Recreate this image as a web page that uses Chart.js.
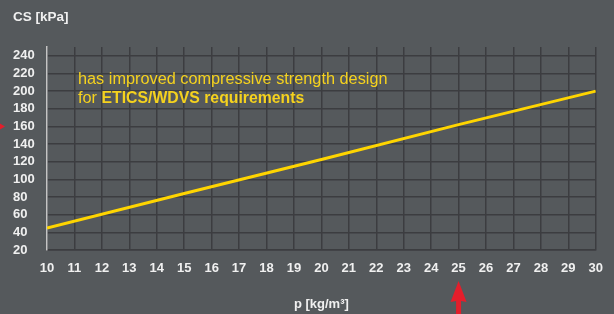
<!DOCTYPE html>
<html>
<head>
<meta charset="utf-8">
<script src="https://cdn.jsdelivr.net/npm/chart.js@4"></script>
<style>
html,body{margin:0;padding:0;background:#55595c;}
canvas{display:block;}
</style>
</head>
<body>
<canvas id="c" width="614" height="314"></canvas>
<script>
// ---- data ----
const xTicks = [10,11,12,13,14,15,16,17,18,19,20,21,22,23,24,25,26,27,28,29,30];
const yTicks = [20,40,60,80,100,120,140,160,180,200,220,240];
const densityValues = [10, 15, 20, 25, 30];
const csValues = [45, 84, 122.5, 162, 200];
const yTitle = 'CS [kPa]';
const xTitle = 'p [kg/m³]';
const noteLine1 = 'has improved compressive strength design';
const noteLine2a = 'for ';
const noteLine2b = 'ETICS/WDVS requirements';
const markedX = 25;
const markedY = 160;

const FONT = '"Liberation Sans", Arial, Helvetica, sans-serif';
const textColor = '#f0f0f0';
const gridColor = '#3c3d40';

const extras = {
  id: 'extras',
  afterDraw(chart) {
    const ctx = chart.ctx;
    const xs = chart.scales.x, ys = chart.scales.y;
    const ca = chart.chartArea;
    ctx.save();
    // y title
    ctx.fillStyle = textColor;
    ctx.textBaseline = 'alphabetic';
    ctx.textAlign = 'left';
    ctx.font = 'bold 13.5px ' + FONT;
    ctx.fillText(yTitle, 13, 21);
    // x title
    ctx.font = 'bold 13px ' + FONT;
    ctx.textAlign = 'center';
    ctx.fillText(xTitle, (ca.left + ca.right) / 2, 308);
    // note
    ctx.fillStyle = '#f5d21e';
    ctx.textAlign = 'left';
    ctx.font = '16.3px ' + FONT;
    ctx.fillText(noteLine1, 78, 84);
    ctx.fillText(noteLine2a, 78, 103);
    const wa = ctx.measureText(noteLine2a).width;
    ctx.font = 'bold 15.8px ' + FONT;
    ctx.fillText(noteLine2b, 78 + wa, 103);
    // red arrows
    ctx.fillStyle = '#e41e2b';
    const ax = xs.getPixelForValue(markedX);
    ctx.beginPath();
    ctx.moveTo(ax, 281);
    ctx.lineTo(ax + 8, 302);
    ctx.lineTo(ax + 2.5, 301);
    ctx.lineTo(ax + 2.5, 314);
    ctx.lineTo(ax - 2.5, 314);
    ctx.lineTo(ax - 2.5, 301);
    ctx.lineTo(ax - 8, 302);
    ctx.closePath();
    ctx.fill();
    const ay = ys.getPixelForValue(markedY);
    ctx.beginPath();
    ctx.moveTo(5, ay);
    ctx.lineTo(0, ay - 3);
    ctx.lineTo(0, ay + 3);
    ctx.closePath();
    ctx.fill();
    ctx.restore();
  }
};

new Chart(document.getElementById('c'), {
  type: 'line',
  data: {
    datasets: [{
      data: densityValues.map((x, i) => ({x: x, y: csValues[i]})),
      borderColor: '#ffd500',
      borderWidth: 3,
      pointRadius: 0,
      tension: 0,
      fill: false
    }]
  },
  options: {
    responsive: false,
    animation: false,
    devicePixelRatio: 1,
    layout: {padding: {left: 13, right: 11, top: 47, bottom: 0}},
    plugins: {legend: {display: false}, tooltip: {enabled: false}},
    scales: {
      x: {
        type: 'linear',
        min: 10, max: 30,
        afterBuildTicks(s) { s.ticks = xTicks.map(v => ({value: v})); },
        afterFit(s) { s.height = 64; },
        grid: {color: gridColor, lineWidth: 1.5, drawTicks: false},
        border: {color: gridColor, width: 1.5},
        ticks: {
          color: textColor,
          font: {family: FONT, size: 13, weight: 'bold'},
          padding: 11,
          maxRotation: 0,
          autoSkip: false
        }
      },
      y: {
        type: 'linear',
        min: 20, max: 250,
        afterBuildTicks(s) { s.ticks = yTicks.map(v => ({value: v})); },
        afterFit(s) { s.width = 34; },
        grid: {color: gridColor, lineWidth: 1.5, drawTicks: false},
        border: {color: '#c4c4c4', width: 1.5},
        ticks: {
          color: textColor,
          font: {family: FONT, size: 13, weight: 'bold'},
          crossAlign: 'far',
          padding: 4,
          autoSkip: false
        }
      }
    }
  },
  plugins: [extras]
});
</script>
</body>
</html>
